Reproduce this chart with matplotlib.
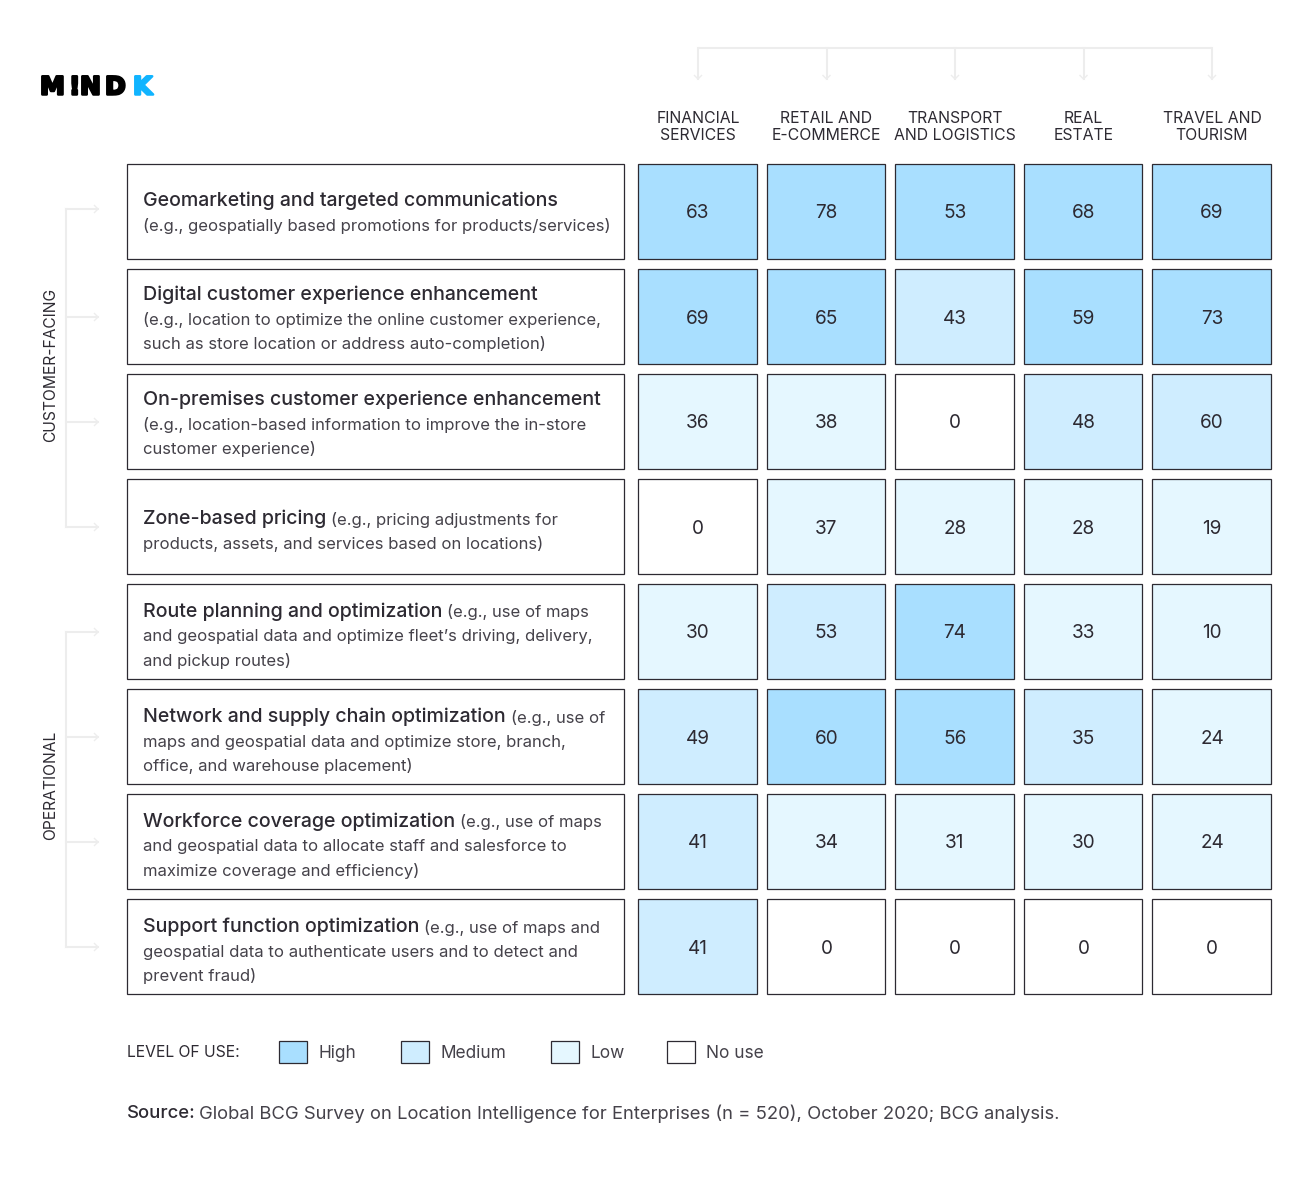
import matplotlib
matplotlib.use('Agg')
import matplotlib.pyplot as plt
import matplotlib.patheffects as pe
from matplotlib.patches import Rectangle

plt.rcParams['font.family'] = ['Inter', 'DejaVu Sans']

INDUSTRIES = ['FINANCIAL\nSERVICES', 'RETAIL AND\nE-COMMERCE', 'TRANSPORT\nAND LOGISTICS', 'REAL\nESTATE', 'TRAVEL AND\nTOURISM']

TITLES = [
    'Geomarketing and targeted communications',
    'Digital customer experience enhancement',
    'On-premises customer experience enhancement',
    'Zone-based pricing',
    'Route planning and optimization',
    'Network and supply chain optimization',
    'Workforce coverage optimization',
    'Support function optimization',
]
# first entry of each list continues the title line when it is not on its own line
DETAILS = [
    ['', '(e.g., geospatially based promotions for products/services)'],
    ['', '(e.g., location to optimize the online customer experience,', 'such as store location or address auto-completion)'],
    ['', '(e.g., location-based information to improve the in-store', 'customer experience)'],
    ['(e.g., pricing adjustments for', 'products, assets, and services based on locations)'],
    ['(e.g., use of maps', 'and geospatial data and optimize fleet\u2019s driving, delivery,', 'and pickup routes)'],
    ['(e.g., use of', 'maps and geospatial data and optimize store, branch,', 'office, and warehouse placement)'],
    ['(e.g., use of maps', 'and geospatial data to allocate staff and salesforce to', 'maximize coverage and efficiency)'],
    ['(e.g., use of maps and', 'geospatial data to authenticate users and to detect and', 'prevent fraud)'],
]
VALUES = [
    [63, 78, 53, 68, 69],
    [69, 65, 43, 59, 73],
    [36, 38, 0, 48, 60],
    [0, 37, 28, 28, 19],
    [30, 53, 74, 33, 10],
    [49, 60, 56, 35, 24],
    [41, 34, 31, 30, 24],
    [41, 0, 0, 0, 0],
]
# 3 high, 2 medium, 1 low, 0 no use
LEVELS = [
    [3, 3, 3, 3, 3],
    [3, 3, 2, 3, 3],
    [1, 1, 0, 2, 2],
    [0, 1, 1, 1, 1],
    [1, 2, 3, 1, 1],
    [2, 3, 3, 2, 1],
    [2, 1, 1, 1, 1],
    [2, 0, 0, 0, 0],
]
GROUPS = [('CUSTOMER-FACING', 0, 3, 365), ('OPERATIONAL', 4, 7, 785)]
LEGEND = [('High', 3, 279), ('Medium', 2, 401), ('Low', 1, 551), ('No use', 0, 667)]
SOURCE = 'Global BCG Survey on Location Intelligence for Enterprises (n = 520), October 2020; BCG analysis.'

COLORS = {3: '#A9DFFF', 2: '#CFEDFF', 1: '#E5F7FF', 0: '#FFFFFF'}
DARK = '#2D2A32'
GREY = '#EDEDED'

COL_X = [638, 767, 895, 1024, 1152]
COL_W = [119, 118, 119, 118, 119]
ROW_Y = [164 + 105 * i for i in range(8)]
ROW_H = 95
BOX_X = 127
BOX_W = 497


def px(size):
    return size * 0.72


fig = plt.figure(figsize=(13.14, 11.79), dpi=100, facecolor='white')
ax = fig.add_axes([0, 0, 1, 1])
ax.set_xlim(0, 1314)
ax.set_ylim(1179, 0)
ax.axis('off')
renderer = fig.canvas.get_renderer()

# logo
logo = [('M', 40, '#000000'), ('!', 69, '#000000'), ('N', 80, '#000000'), ('D', 105, '#000000'), ('K', 133, '#10B4FF')]
for letter, x, color in logo:
    ax.text(x, 85, letter, fontsize=px(25), fontfamily='DejaVu Sans', fontweight='bold', color=color,
            ha='left', va='center_baseline',
            path_effects=[pe.withStroke(linewidth=1.8, foreground=color)])

# top bracket
centers = [x + w / 2 + 0.5 for x, w in zip(COL_X, COL_W)]
ax.plot([centers[0], centers[-1]], [48, 48], color=GREY, lw=1.5, solid_capstyle='butt')
for c in centers:
    ax.plot([c, c], [48, 79], color=GREY, lw=1.5)
    ax.plot([c - 3.5, c, c + 3.5], [75.5, 79, 75.5], color=GREY, lw=1)

for c, name in zip(centers, INDUSTRIES):
    a, b = name.split('\n')
    ax.text(c, 118.5, a, ha='center', va='center', fontsize=px(15.8), color=DARK)
    ax.text(c, 135.5, b, ha='center', va='center', fontsize=px(15.8), color=DARK)

# side brackets
for label, first, last, mid in GROUPS:
    ys = [ROW_Y[i] + ROW_H / 2 + 0.5 for i in range(first, last + 1)]
    if first == 0:
        ys[0] -= 3
    ax.plot([66, 66], [ys[0], ys[-1]], color=GREY, lw=1.5)
    for y in ys:
        ax.plot([66, 98], [y, y], color=GREY, lw=1.5)
        ax.plot([94.5, 98, 94.5], [y - 3.5, y, y + 3.5], color=GREY, lw=1)
    ax.text(51, mid, label, rotation=90, ha='center', va='center', fontsize=px(15.6), color=DARK)

# rows
for i, y in enumerate(ROW_Y):
    ax.add_patch(Rectangle((BOX_X, y), BOX_W, ROW_H, fc='white', ec=DARK, lw=0.9))
    details = DETAILS[i]
    n = len(details)
    if n == 2 and details[0] == '':
        top = y + 37
    elif n == 2:
        top = y + 40
    elif i == 1 or i == 2:
        top = y + 26
    else:
        top = y + 28
    t = ax.text(BOX_X + 16, top, TITLES[i], fontsize=px(19.6), fontweight='medium', color=DARK, ha='left', va='center')
    if details[0]:
        end = t.get_window_extent(renderer).x1
        ax.text(end + 5, top + 0.5, details[0], fontsize=px(16.7), color='#45424A', ha='left', va='center')
    for k, line in enumerate(details[1:]):
        ax.text(BOX_X + 16, top + 25 + 24 * k, line, fontsize=px(16.7), color='#45424A', ha='left', va='center')

    for j, x in enumerate(COL_X):
        ax.add_patch(Rectangle((x, y), COL_W[j], ROW_H, fc=COLORS[LEVELS[i][j]], ec=DARK, lw=0.9))
        ax.text(x + COL_W[j] / 2 + 0.5, y + ROW_H / 2 + 2, str(VALUES[i][j]), ha='center', va='center', fontsize=px(19), color=DARK)

# legend
ax.text(127, 1052.5, 'LEVEL OF USE:', ha='left', va='center', fontsize=px(15.7), color=DARK)
for name, level, x in LEGEND:
    ax.add_patch(Rectangle((x, 1041), 28, 22, fc=COLORS[level], ec=DARK, lw=0.9))
    ax.text(x + 39, 1053, name, ha='left', va='center', fontsize=px(17.3), color='#45424A')

# source
s = ax.text(127, 1114, 'Source:', ha='left', va='center', fontsize=px(18.5), fontweight='medium', color=DARK)
end = s.get_window_extent(renderer).x1
ax.text(end + 3.5, 1114, SOURCE, ha='left', va='center', fontsize=px(18.45), color='#45424A')

fig.savefig('out.png', dpi=100, facecolor='white')
